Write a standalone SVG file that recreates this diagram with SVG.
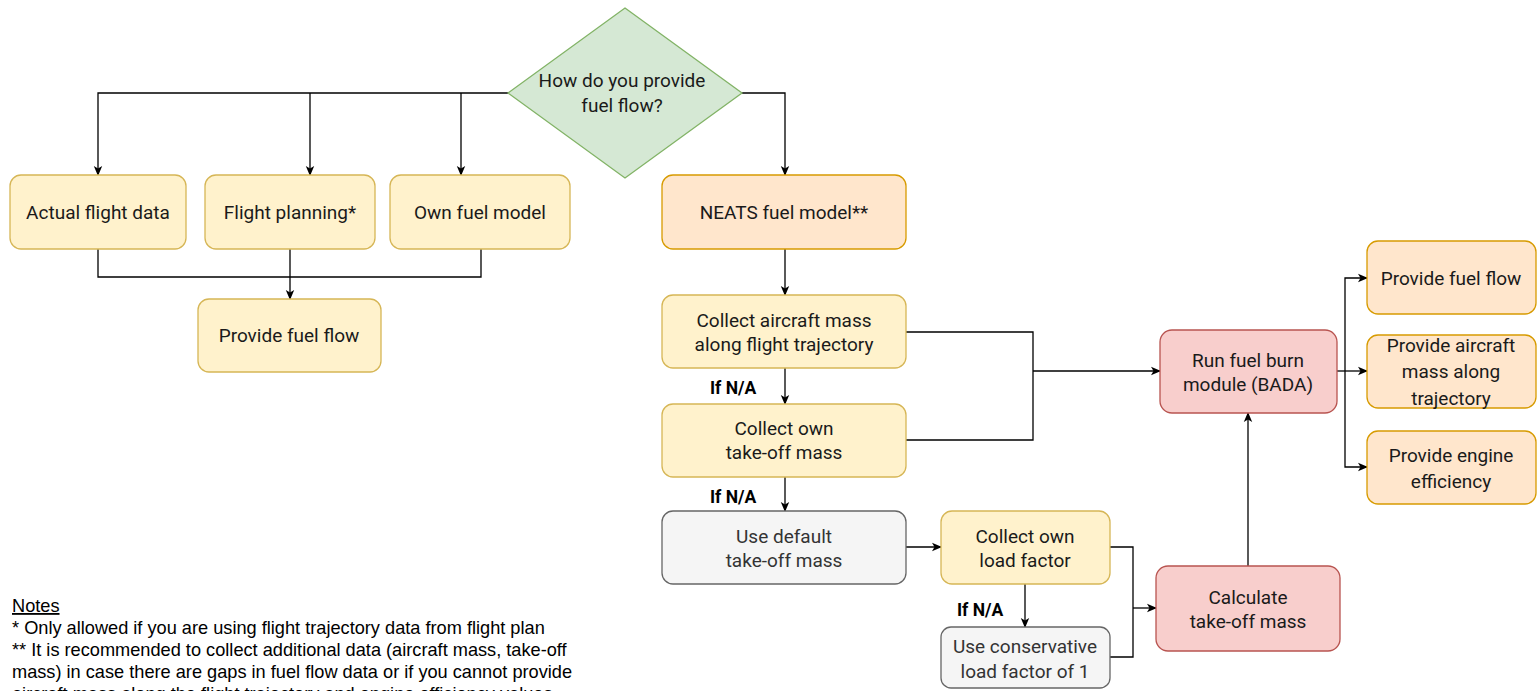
<svg xmlns="http://www.w3.org/2000/svg" width="1538" height="691" viewBox="0 0 1538 691">
<defs>
<marker id="arr" viewBox="0 0 10 10" refX="9" refY="5" markerWidth="10" markerHeight="10" markerUnits="userSpaceOnUse" orient="auto">
<path d="M0,0.8 L10,5 L0,9.2 L2.5,5 Z" fill="#000"/>
</marker>
<style>
.n text{font-family:Roboto,"Liberation Sans",sans-serif;font-size:19px;fill:#1a1a1a;text-anchor:middle}
.y{fill:#fff2cc;stroke:#d6b656;stroke-width:1.3}
.o{fill:#ffe6cc;stroke:#d79b00;stroke-width:1.3}
.r{fill:#f8cecc;stroke:#b85450;stroke-width:1.3}
.g{fill:#f5f5f5;stroke:#666666;stroke-width:1.3}
.gt{fill:#333333 !important}
.c path{fill:none;stroke:#000;stroke-width:1.3}
.a{marker-end:url(#arr)}
.lbl{font-family:Roboto,"Liberation Sans",sans-serif;font-size:17.5px;font-weight:bold;fill:#000}
.notes{font-family:"Liberation Sans",Arial,sans-serif;font-size:18.2px;fill:#000}
</style>
</defs>
<rect width="1538" height="691" fill="#fff"/>
<g class="c" id="connectors">
<path class="a" d="M508,93 H98 V175"/>
<path class="a" d="M310,93 V175"/>
<path class="a" d="M461,93 V175"/>
<path class="a" d="M742,93 H785 V175"/>
<path d="M98,249 V277 H481 V249"/>
<path class="a" d="M290,249 V299"/>
<path class="a" d="M785,249 V295"/>
<path class="a" d="M785,368 V404"/>
<path class="a" d="M785,477 V511"/>
<path class="a" d="M906,547 H941"/>
<path class="a" d="M1025,584 V627"/>
<path d="M906,332 H1033 V440 H906"/>
<path class="a" d="M1033,371 H1160"/>
<path d="M1110,547 H1133 V657 H1110"/>
<path class="a" d="M1133,608 H1156"/>
<path class="a" d="M1248,566 V413"/>
<path class="a" d="M1337,371 H1367"/>
<path class="a" d="M1345,371 V278 H1367"/>
<path class="a" d="M1345,371 V467 H1367"/>
</g>
<g class="n" id="decision">
<polygon points="625,8 742,93 625,178 508,93" fill="#d5e8d4" stroke="#82b366" stroke-width="1.3"/>
<text x="622" y="87">How do you provide</text>
<text x="622" y="112">fuel flow?</text>
</g>
<g class="n" id="actual"><rect class="y" x="10" y="175" width="176" height="74" rx="11"/><text x="98" y="219">Actual flight data</text></g>
<g class="n" id="planning"><rect class="y" x="205" y="175" width="170" height="74" rx="11"/><text x="290" y="219">Flight planning*</text></g>
<g class="n" id="ownmodel"><rect class="y" x="390" y="175" width="180" height="74" rx="11"/><text x="480" y="219">Own fuel model</text></g>
<g class="n" id="neats"><rect class="o" x="662" y="175" width="244" height="74" rx="11"/><text x="784" y="219">NEATS fuel model**</text></g>
<g class="n" id="provide1"><rect class="y" x="198" y="299" width="183" height="73" rx="11"/><text x="289" y="342">Provide fuel flow</text></g>
<g class="n" id="collectmass"><rect class="y" x="662" y="295" width="244" height="73" rx="11"/><text x="784" y="327">Collect aircraft mass</text><text x="784" y="351">along flight trajectory</text></g>
<g class="n" id="collecttom"><rect class="y" x="662" y="404" width="244" height="73" rx="11"/><text x="784" y="435">Collect own</text><text x="784" y="459">take-off mass</text></g>
<g class="n" id="defaulttom"><rect class="g" x="662" y="511" width="244" height="73" rx="11"/><text class="gt" x="784" y="543">Use default</text><text class="gt" x="784" y="567">take-off mass</text></g>
<g class="n" id="loadfactor"><rect class="y" x="941" y="511" width="169" height="73" rx="11"/><text x="1025" y="543">Collect own</text><text x="1025" y="567">load factor</text></g>
<g class="n" id="conservative"><rect class="g" x="941" y="627" width="169" height="61" rx="10"/><text class="gt" x="1025" y="653">Use conservative</text><text class="gt" x="1025" y="678">load factor of 1</text></g>
<g class="n" id="calctom"><rect class="r" x="1156" y="566" width="184" height="85" rx="12"/><text x="1248" y="604">Calculate</text><text x="1248" y="628">take-off mass</text></g>
<g class="n" id="runbada"><rect class="r" x="1160" y="330" width="177" height="83" rx="12"/><text x="1248" y="367">Run fuel burn</text><text x="1248" y="391">module (BADA)</text></g>
<g class="n" id="outflow"><rect class="o" x="1367" y="241" width="169" height="73" rx="11"/><text x="1451" y="285">Provide fuel flow</text></g>
<g class="n" id="outmass"><rect class="o" x="1367" y="335" width="169" height="73" rx="11"/><text x="1451" y="352">Provide aircraft</text><text x="1451" y="378">mass along</text><text x="1451" y="405">trajectory</text></g>
<g class="n" id="outeff"><rect class="o" x="1367" y="431" width="169" height="73" rx="11"/><text x="1451" y="462">Provide engine</text><text x="1451" y="488">efficiency</text></g>
<g id="labels">
<text class="lbl" x="710" y="394">If N/A</text>
<text class="lbl" x="710" y="503">If N/A</text>
<text class="lbl" x="957" y="616">If N/A</text>
</g>
<g id="notes" class="notes">
<text x="12" y="612" text-decoration="underline">Notes</text>
<text x="12" y="634">* Only allowed if you are using flight trajectory data from flight plan</text>
<text x="12" y="656">** It is recommended to collect additional data (aircraft mass, take-off</text>
<text x="12" y="678">mass) in case there are gaps in fuel flow data or if you cannot provide</text>
<text x="12" y="700">aircraft mass along the flight trajectory and engine efficiency values</text>
</g>
</svg>
